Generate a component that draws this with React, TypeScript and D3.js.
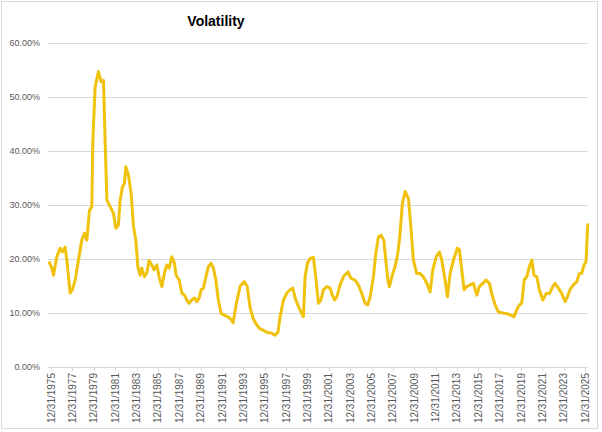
import React, { useEffect, useRef } from "react";
import * as d3 from "d3";

const years = [
  1975.81, 1976.07, 1976.22, 1976.53, 1976.84, 1977.06, 1977.31, 1977.47, 1977.78, 1977.99,
  1978.25, 1978.56, 1978.87, 1979.12, 1979.34, 1979.59, 1979.81, 1979.9, 1980.12, 1980.43,
  1980.68, 1980.9, 1981.06, 1981.22, 1981.52, 1981.83, 1982.06, 1982.3, 1982.46, 1982.68,
  1982.86, 1982.99, 1983.24, 1983.49, 1983.71, 1983.93, 1984.12, 1984.33, 1984.49, 1984.74,
  1984.96, 1985.18, 1985.43, 1985.64, 1985.9, 1986.11, 1986.37, 1986.61, 1986.83, 1987.05,
  1987.3, 1987.54, 1987.7, 1987.99, 1988.24, 1988.48, 1988.71, 1988.92, 1989.17, 1989.42,
  1989.64, 1989.86, 1990.04, 1990.26, 1990.49, 1990.73, 1990.98, 1991.2, 1991.42, 1991.66,
  1991.92, 1992.23, 1992.54, 1992.76, 1993.04, 1993.32, 1993.7, 1994.07, 1994.35, 1994.63,
  1994.91, 1995.19, 1995.48, 1995.85, 1996.22, 1996.6, 1996.97, 1997.25, 1997.44, 1997.75,
  1998.07, 1998.38, 1998.63, 1998.85, 1999.16, 1999.47, 1999.62, 1999.78, 2000.0, 2000.25,
  2000.56, 2000.81, 2001.03, 2001.25, 2001.5, 2001.81, 2002.12, 2002.28, 2002.53, 2002.75,
  2003.06, 2003.37, 2003.78, 2004.09, 2004.46, 2004.77, 2005.09, 2005.4, 2005.65, 2005.87,
  2006.18, 2006.4, 2006.65, 2006.9, 2007.15, 2007.34, 2007.53, 2007.68, 2007.9, 2008.21,
  2008.46, 2008.68, 2008.89, 2009.15, 2009.46, 2009.71, 2009.92, 2010.24, 2010.55, 2010.86,
  2011.18, 2011.49, 2011.74, 2012.05, 2012.36, 2012.58, 2012.89, 2013.11, 2013.36, 2013.67,
  2014.04, 2014.23, 2014.45, 2014.67, 2014.92, 2015.23, 2015.54, 2015.86, 2016.1, 2016.42,
  2016.73, 2017.04, 2017.26, 2017.57, 2017.88, 2018.29, 2018.67, 2019.04, 2019.35, 2019.6,
  2019.85, 2020.07, 2020.29, 2020.54, 2020.78, 2021.01, 2021.22, 2021.48, 2021.72, 2022.04,
  2022.35, 2022.66, 2022.98, 2023.19, 2023.5, 2023.82, 2024.13, 2024.34, 2024.59, 2024.9,
  2025.22, 2025.46, 2025.68, 2025.9, 2026.09, 2026.25,
];

// volatility in percent
const volatility = [
  19.5, 18.3, 17.0, 20.4, 22.0, 21.3, 22.2, 19.8, 13.7, 14.3,
  16.1, 19.8, 23.5, 24.8, 23.5, 29.0, 29.7, 41.5, 51.9, 54.7,
  52.8, 53.1, 41.5, 30.9, 29.7, 28.5, 25.7, 26.3, 30.9, 33.4,
  34.0, 37.1, 35.5, 32.2, 26.0, 23.5, 18.6, 17.0, 18.3, 16.7,
  17.4, 19.7, 18.9, 18.0, 18.9, 16.7, 14.9, 17.4, 18.9, 18.3,
  20.4, 19.3, 17.0, 16.1, 13.7, 13.3, 12.4, 11.8, 12.4, 12.8,
  12.1, 12.8, 14.3, 14.6, 16.7, 18.6, 19.2, 18.3, 16.1, 12.4,
  9.9, 9.6, 9.3, 9.0, 8.2, 11.5, 15.0, 15.8, 15.0, 11.0,
  9.0, 8.0, 7.2, 6.8, 6.4, 6.3, 5.9, 6.5, 9.3, 12.4,
  13.7, 14.3, 14.6, 12.8, 11.2, 9.9, 9.3, 16.7, 19.2, 20.1,
  20.3, 16.1, 11.8, 12.4, 14.3, 14.9, 14.6, 13.6, 12.4, 13.0,
  15.2, 16.7, 17.6, 16.4, 16.1, 15.2, 13.6, 11.8, 11.5, 13.0,
  16.7, 21.0, 24.1, 24.4, 23.5, 19.8, 16.1, 14.9, 16.7, 18.6,
  21.0, 24.8, 30.3, 32.5, 31.2, 25.4, 19.8, 17.3, 17.3, 16.7,
  15.5, 13.9, 18.0, 20.4, 21.3, 19.8, 16.1, 13.0, 17.3, 19.8,
  22.0, 21.7, 18.0, 14.3, 14.9, 15.2, 15.5, 13.3, 14.9, 15.5,
  16.1, 15.5, 13.6, 11.5, 10.2, 10.0, 9.9, 9.6, 9.3, 10.6,
  11.5, 11.8, 16.1, 16.7, 18.6, 19.8, 17.0, 16.7, 14.3, 12.4,
  13.6, 13.6, 14.9, 15.5, 14.6, 13.6, 12.1, 13.0, 14.3, 15.2,
  15.8, 17.3, 17.3, 18.9, 19.5, 26.6,
];

const tickLabels = [
  "12/31/1975", "12/31/1977", "12/31/1979", "12/31/1981", "12/31/1983", "12/31/1985",
  "12/31/1987", "12/31/1989", "12/31/1991", "12/31/1993", "12/31/1995", "12/31/1997",
  "12/31/1999", "12/31/2001", "12/31/2003", "12/31/2005", "12/31/2007", "12/31/2009",
  "12/31/2011", "12/31/2013", "12/31/2015", "12/31/2017", "12/31/2019", "12/31/2021",
  "12/31/2023", "12/31/2025",
];

const yTicks = [0, 10, 20, 30, 40, 50, 60];

const W = 602;
const H = 432;

export default function App() {
  const ref = useRef<SVGSVGElement>(null);

  useEffect(() => {
    const svg = d3.select(ref.current);
    svg.selectAll("*").remove();

    const x = d3.scaleLinear().domain([1975.8, 2026.3]).range([49, 588.3]);
    const y = d3.scaleLinear().domain([0, 60]).range([367, 43]);

    svg.append("rect")
      .attr("x", 1.5).attr("y", 1.5)
      .attr("width", 596).attr("height", 427)
      .attr("fill", "white")
      .attr("stroke", "#d9d9d9");

    svg.append("text")
      .attr("x", 216).attr("y", 26)
      .attr("text-anchor", "middle")
      .attr("font-family", "Liberation Sans, Arial, sans-serif")
      .attr("font-weight", "bold")
      .attr("font-size", 14)
      .attr("fill", "#000")
      .text("Volatility");

    // gridlines + y labels
    const grid = svg.append("g");
    grid.selectAll("line")
      .data(yTicks.filter(d => d > 0))
      .join("line")
        .attr("x1", 48).attr("x2", 588)
        .attr("y1", d => Math.round(y(d)) + 0.5)
        .attr("y2", d => Math.round(y(d)) + 0.5)
        .attr("stroke", "#d9d9d9");

    svg.append("g")
      .attr("font-family", "Liberation Sans, Arial, sans-serif")
      .attr("font-size", 9)
      .attr("fill", "#595959")
      .selectAll("text")
      .data(yTicks)
      .join("text")
        .attr("x", 40)
        .attr("y", d => y(d))
        .attr("dy", "0.35em")
        .attr("text-anchor", "end")
        .text(d => d.toFixed(2) + "%");

    // x axis
    const tickYears = tickLabels.map(l => +l.slice(-4) + 1);
    svg.append("line")
      .attr("x1", 48).attr("x2", 588)
      .attr("y1", 367.5).attr("y2", 367.5)
      .attr("stroke", "#d9d9d9");
    svg.append("g")
      .selectAll("line")
      .data(tickYears)
      .join("line")
        .attr("x1", d => Math.round(x(d)) + 0.5)
        .attr("x2", d => Math.round(x(d)) + 0.5)
        .attr("y1", 367).attr("y2", 371)
        .attr("stroke", "#d9d9d9");

    svg.append("g")
      .attr("font-family", "Liberation Sans, Arial, sans-serif")
      .attr("font-size", 10)
      .attr("fill", "#595959")
      .selectAll("text")
      .data(tickLabels)
      .join("text")
        .attr("transform", (d, i) => `translate(${x(tickYears[i])},373) rotate(-90)`)
        .attr("dy", "0.35em")
        .attr("text-anchor", "end")
        .text(d => d);

    const line = d3.line<number>()
      .x((d, i) => x(years[i]))
      .y(d => y(d));

    svg.append("path")
      .datum(volatility)
      .attr("fill", "none")
      .attr("stroke", "#f0c20c")
      .attr("stroke-width", 3)
      .attr("stroke-linejoin", "round")
      .attr("d", line);
  }, []);

  return (
    <div style={{ position: "absolute", left: 0, top: 0 }}>
      <svg ref={ref} width={W} height={H} style={{ display: "block" }}></svg>
    </div>
  );
}
